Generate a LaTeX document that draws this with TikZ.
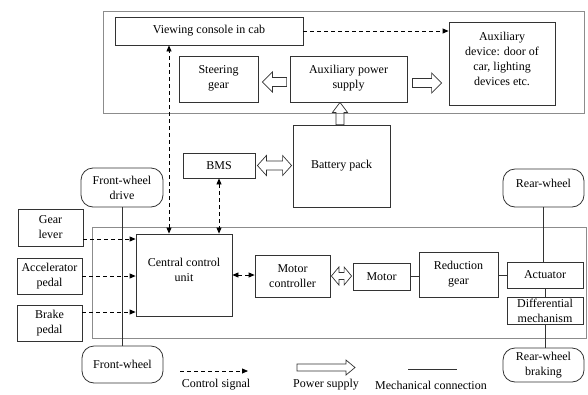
\documentclass[tikz,border=0pt]{standalone}
\usepackage{fontspec}
\setmainfont{Liberation Serif}
\usetikzlibrary{arrows.meta,calc}
% single hollow arrow: #1 tail, #2 tip, #3 shaft half, #4 head half, #5 head length
\newcommand\hollowS[5]{%
  \draw[hollow] ($(#1)!#3!90:(#2)$)
    -- ($($(#2)!#5!(#1)$)!#3!-90:(#1)$)
    -- ($($(#2)!#5!(#1)$)!#4!-90:(#1)$)
    -- (#2)
    -- ($($(#2)!#5!(#1)$)!#4!90:(#1)$)
    -- ($($(#2)!#5!(#1)$)!#3!90:(#1)$)
    -- ($(#1)!#3!-90:(#2)$) -- cycle;}
% double hollow arrow: #1 tip, #2 tip
\newcommand\hollowD[5]{%
  \draw[hollow] (#1)
    -- ($($(#1)!#5!(#2)$)!#4!90:(#2)$)
    -- ($($(#1)!#5!(#2)$)!#3!90:(#2)$)
    -- ($($(#2)!#5!(#1)$)!#3!-90:(#1)$)
    -- ($($(#2)!#5!(#1)$)!#4!-90:(#1)$)
    -- (#2)
    -- ($($(#2)!#5!(#1)$)!#4!90:(#1)$)
    -- ($($(#2)!#5!(#1)$)!#3!90:(#1)$)
    -- ($($(#1)!#5!(#2)$)!#3!-90:(#2)$)
    -- ($($(#1)!#5!(#2)$)!#4!-90:(#2)$)
    -- cycle;}
\begin{document}
\begin{tikzpicture}[x=1pt,y=-1pt, font=\fontsize{12}{15}\selectfont,
  box/.style={draw=black!80, line width=0.8pt, align=center, inner sep=1pt},
  rbox/.style={box, rounded corners=12pt},
  cont/.style={draw=black!45, line width=0.8pt, inner sep=0pt},
  sig/.style={line width=0.8pt, dash pattern=on 4pt off 3pt},
  tip/.style={-{Triangle[length=6pt,width=5pt]}},
  btip/.style={{Triangle[length=6pt,width=5pt]}-{Triangle[length=6pt,width=5pt]}},
  mech/.style={line width=0.8pt, draw=black!80},
  hollow/.style={draw=black!80, line width=0.7pt, line join=miter},
  lbl/.style={inner sep=0pt}
]
\useasboundingbox (0,0) rectangle (588,394);
% containers
\node[cont, minimum width=481pt, minimum height=102pt] (topc) at (343.5,62) {};
\node[cont, minimum width=494pt, minimum height=111pt] (botc) at (339,282.5) {};
% top boxes
\node[box, minimum width=188pt, minimum height=28pt] (view) at (209,31) {Viewing console in cab};
\node[box, minimum width=106pt, minimum height=83pt] (aux) at (502,63.5) {Auxiliary\\device: door of\\car, lighting\\devices etc.\\[-5pt]~};
\node[box, minimum width=79pt, minimum height=46pt] (steer) at (218.5,79) {Steering\\gear\\[-11pt]~};
\node[box, minimum width=117pt, minimum height=46pt] (aps) at (348.5,79) {Auxiliary power\\supply\\[-11pt]~};
% middle
\node[box, minimum width=72pt, minimum height=25pt] (bms) at (219,165.5) {BMS};
\node[box, minimum width=97pt, minimum height=82pt] (batt) at (341.5,166) {Battery pack\\[-12pt]~};
\node[rbox, minimum width=82pt, minimum height=39pt] (fwd) at (122,187.5) {Front-wheel\\drive};
\node[rbox, minimum width=81pt, minimum height=38pt] (rw) at (543.5,188) {Rear-wheel\\[-6pt]~};
% inputs
\node[box, minimum width=65pt, minimum height=37pt] (gear) at (50.5,227.5) {Gear\\lever};
\node[box, minimum width=65pt, minimum height=36pt] (accel) at (49.5,276) {Accelerator\\pedal};
\node[box, minimum width=65pt, minimum height=36pt] (brake) at (49.5,323) {Brake\\pedal};
% drive line
\node[box, minimum width=96pt, minimum height=82pt] (ccu) at (184,275) {Central control\\unit\\[-5pt]~};
\node[box, minimum width=75pt, minimum height=42pt] (mc) at (292.5,276) {Motor\\controller};
\node[box, minimum width=57pt, minimum height=27pt] (motor) at (381.5,276.5) {Motor};
\node[box, minimum width=79pt, minimum height=45pt] (red) at (458.5,274.5) {Reduction\\gear};
\node[box, minimum width=76pt, minimum height=26pt] (act) at (545,275) {Actuator};
\node[box, minimum width=76pt, minimum height=27pt] (diff) at (545,310.5) {Differential\\mechanism};
\node[rbox, minimum width=81pt, minimum height=34pt] (rwb) at (543.5,365) {Rear-wheel\\braking};
\node[rbox, minimum width=81pt, minimum height=37pt] (fw) at (122.5,364.5) {Front-wheel};
% control signals
\coordinate (vx) at (169,0);
\draw[sig, btip] (vx |- ccu.north) -- (vx |- view.south);
\draw[sig, btip] (bms.south) -- (bms.south |- ccu.north);
\draw[sig, tip] (view.east) -- (view.east -| aux.west);
\draw[sig, tip] ($(gear.east)+(0,11.5)$) coordinate (g1) -- (g1 -| ccu.west);
\draw[sig, tip] (accel.east) -- (accel.east -| ccu.west);
\draw[sig, tip] ($(brake.east)+(0,-11)$) coordinate (b1) -- (b1 -| ccu.west);
\draw[sig, btip] (ccu.east) -- (ccu.east -| mc.west);
% mechanical
\draw[mech] (fwd.south) -- (fwd.south |- fw.north);
\draw[mech] (rw.south) -- (rw.south |- act.north);
\draw[mech] (act.south) -- (act.south |- diff.north);
\draw[mech] (diff.south) -- (diff.south |- rwb.north);
\draw[mech] (motor.east) -- (motor.east -| red.west);
\draw[mech] ($(red.east)+(0,0.5)$) coordinate (r1) -- (r1 -| act.west);
% power arrows
\coordinate (a1t) at ($(aps.west)+(-3,3)$);
\coordinate (a1h) at ($(steer.east)+(4,3)$);
\hollowS{a1t}{a1h}{4.5pt}{10pt}{10pt}
\coordinate (a2t) at ($(aps.east)+(5,4)$);
\coordinate (a2h) at ($(aux.west |- aps.east)+(-7,4)$);
\hollowS{a2t}{a2h}{4.5pt}{10pt}{10pt}
\coordinate (a3t) at ($(batt.north)+(-1.5,0)$);
\coordinate (a3h) at ($(batt.north |- aps.south)+(-1.5,0)$);
\hollowS{a3t}{a3h}{4pt}{7.5pt}{10pt}
\coordinate (a4l) at ($(bms.east)+(2,0)$);
\coordinate (a4r) at ($(batt.west |- bms.east)+(-1,0)$);
\hollowD{a4l}{a4r}{4.5pt}{10pt}{9pt}
\coordinate (a5l) at ($(mc.east)+(1,0)$);
\coordinate (a5r) at ($(motor.west |- mc.east)+(-1,0)$);
\hollowD{a5l}{a5r}{3.5pt}{9pt}{7.5pt}
% legend
\coordinate (l1) at (180,371);
\coordinate (l2) at (248,371);
\draw[sig, tip] (l1) -- (l2);
\node[lbl] (t1) at (216,385) {Control signal};
\coordinate (p1) at (297,367.5);
\coordinate (p2) at (355,367.5);
\hollowS{p1}{p2}{3.5pt}{7.5pt}{9pt}
\node[lbl] (t2) at (326,385) {Power supply};
\coordinate (m1) at (408,369);
\coordinate (m2) at (457,369);
\draw[mech] (m1) -- (m2);
\node[lbl] (t3) at (431,385) {Mechanical connection};
\end{tikzpicture}
\end{document}
